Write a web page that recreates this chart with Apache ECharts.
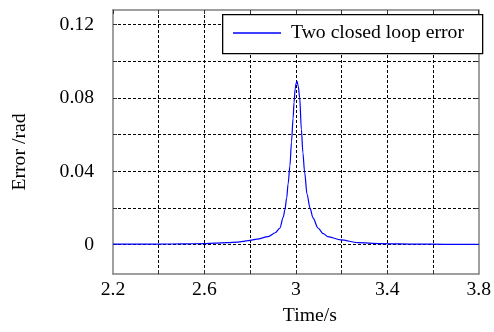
<!DOCTYPE html>
<html>
<head>
<meta charset="utf-8">
<script src="https://cdn.jsdelivr.net/npm/echarts@6/dist/echarts.min.js"></script>
<style>html,body{margin:0;padding:0;background:#fff;}#c{width:494px;height:332px;}</style>
</head>
<body>
<div id="c"></div>
<script>
var seriesName = 'Two closed loop error';
var times = [2.2, 2.3, 2.4, 2.5, 2.6, 2.646, 2.7, 2.746, 2.793, 2.83, 2.879, 2.91, 2.93, 2.945, 2.952, 2.96, 2.966, 2.974, 2.981, 2.988, 2.992, 2.997, 3.001, 3.005, 3.010, 3.017, 3.024, 3.031, 3.038, 3.049, 3.062, 3.075, 3.097, 3.12, 3.14, 3.197, 3.27, 3.37, 3.53, 3.65, 3.8];
var errors = [0.0003, 0.0003, 0.0003, 0.0004, 0.0006, 0.0008, 0.0011, 0.0014, 0.0022, 0.0030, 0.0044, 0.0065, 0.0090, 0.0150, 0.0190, 0.0255, 0.0330, 0.0430, 0.0560, 0.0690, 0.0775, 0.0850, 0.0880, 0.0892, 0.0868, 0.0800, 0.0630, 0.0500, 0.0399, 0.0275, 0.0200, 0.0146, 0.0091, 0.0060, 0.0044, 0.0026, 0.0011, 0.0006, 0.0003, 0.0002, 0.0002];
var xGridTicks = [2.4, 2.6, 2.8, 3.0, 3.2, 3.4, 3.6];
var xTicks = [2.2, 2.4, 2.6, 2.8, 3.0, 3.2, 3.4, 3.6, 3.8];
var xLabels = [2.2, 2.6, 3, 3.4, 3.8];
var yTicks = [0, 0.02, 0.04, 0.06, 0.08, 0.10, 0.12];
var yLabels = [0, 0.04, 0.08, 0.12];
var xRange = [2.2, 3.8];
var yRange = [-0.016, 0.128];

var font = 'Liberation Serif, Times New Roman, serif';
var fs = 19.7;
var data = times.map(function (t, i) { return [t, errors[i]]; });
var gridLine = { show: true, lineStyle: { color: '#000', width: 1, type: [3, 2] } };
var borderLine = { show: true, onZero: false, lineStyle: { color: '#808080', width: 1.5 } };
var tickStyle = { color: '#333', width: 1 };

var chart = echarts.init(document.getElementById('c'), null, { renderer: 'canvas' });
chart.setOption({
  animation: false,
  backgroundColor: '#fff',
  grid: { left: 113, right: 12, top: 10, bottom: 58, show: false },
  graphic: [{
    type: 'rect', z: 50, left: 222, top: 14,
    shape: { width: 260, height: 39 },
    style: { fill: '#fff', stroke: '#000', lineWidth: 1.3 }
  }],
  legend: {
    z: 60, left: 222, top: 23, padding: [0, 0, 0, 11],
    data: [seriesName],
    icon: 'rect', itemWidth: 48, itemHeight: 1.5,
    textStyle: { fontFamily: font, fontSize: fs, color: '#000', padding: [0, 0, 0, 5] }
  },
  xAxis: [{
    type: 'value', min: xRange[0], max: xRange[1], position: 'bottom', z: 3,
    name: 'Time/s', nameLocation: 'middle', nameGap: 32,
    nameTextStyle: { fontFamily: font, fontSize: fs, color: '#000', padding: [0, 0, 0, 28] },
    axisLine: borderLine,
    axisTick: { show: true, inside: true, length: 4, customValues: xGridTicks, lineStyle: tickStyle },
    axisLabel: { customValues: xLabels, margin: 6, fontFamily: font, fontSize: fs, color: '#000',
      formatter: function (v) { return String(v); } },
    splitLine: gridLine
  }, {
    type: 'value', min: xRange[0], max: xRange[1], position: 'top', z: 3,
    axisLine: borderLine,
    axisTick: { show: true, inside: true, length: 4, customValues: xTicks, lineStyle: tickStyle },
    axisLabel: { show: false }, splitLine: { show: false }
  }],
  yAxis: [{
    type: 'value', min: yRange[0], max: yRange[1], position: 'left', z: 3,
    name: 'Error /rad', nameLocation: 'middle', nameRotate: 90, nameGap: 83,
    nameTextStyle: { fontFamily: font, fontSize: fs, color: '#000', padding: [0, 20, 0, 0] },
    axisLine: borderLine,
    axisTick: { show: true, inside: true, length: 4, customValues: yTicks, lineStyle: tickStyle },
    axisLabel: { customValues: yLabels, margin: 19, fontFamily: font, fontSize: fs, color: '#000',
      formatter: function (v) { return String(v); } },
    splitLine: gridLine
  }, {
    type: 'value', min: yRange[0], max: yRange[1], position: 'right', z: 3,
    axisLine: borderLine,
    axisTick: { show: true, inside: true, length: 4, customValues: yTicks, lineStyle: tickStyle },
    axisLabel: { show: false }, splitLine: { show: false }
  }],
  series: [{
    name: seriesName, type: 'line', data: data, showSymbol: false, symbol: 'none',
    smooth: 0.3, smoothMonotone: 'x', z: 4,
    lineStyle: { color: '#0000ff', width: 1.2 }, itemStyle: { color: '#0000ff' }
  }]
});
</script>
</body>
</html>
